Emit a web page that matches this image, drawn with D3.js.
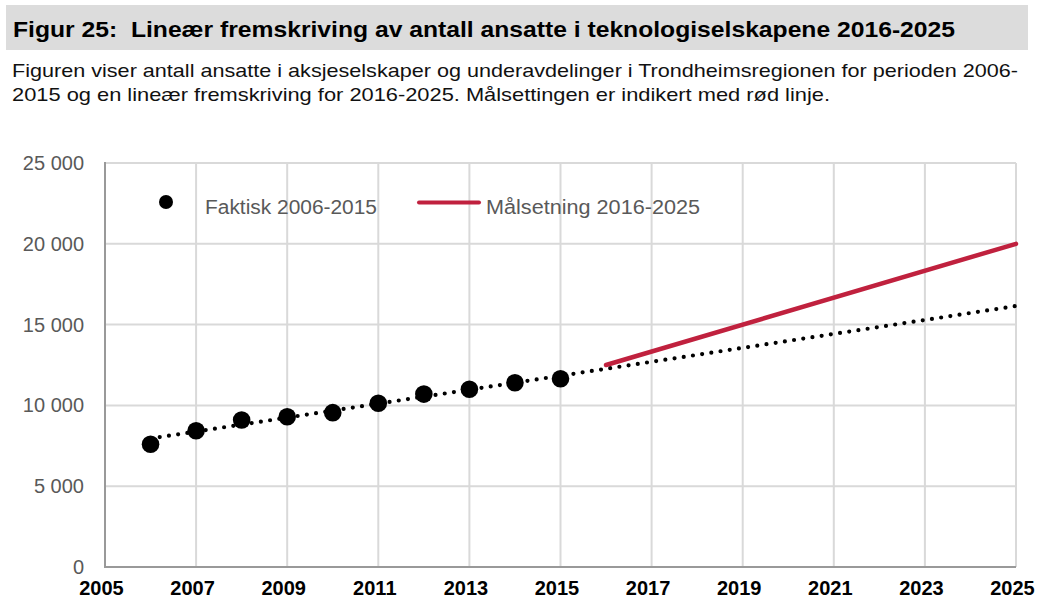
<!DOCTYPE html>
<html>
<head>
<meta charset="utf-8">
<script src="https://cdn.jsdelivr.net/npm/d3@7"></script>
<style>
  html, body { margin: 0; padding: 0; background: #ffffff; }
  svg { display: block; }
</style>
</head>
<body>
<svg id="chart" width="1040" height="611"></svg>
<script>
// ---- data ----
const titleText = "Figur 25:\u00A0 Lineær fremskriving av antall ansatte i teknologiselskapene 2016-2025";
const subtitleLines = [
  "Figuren viser antall ansatte i aksjeselskaper og underavdelinger i Trondheimsregionen for perioden 2006-",
  "2015 og en lineær fremskriving for 2016-2025. Målsettingen er indikert med rød linje."
];
const actualYears = [2006, 2007, 2008, 2009, 2010, 2011, 2012, 2013, 2014, 2015];
const actualValues = [7600, 8430, 9100, 9300, 9550, 10130, 10700, 11000, 11400, 11650];
const trendYears = [2006, 2025];
const trendValues = [7950, 16150];
const targetYears = [2016, 2025];
const targetValues = [12500, 20000];
const yTicks = [0, 5000, 10000, 15000, 20000, 25000];
const xTicks = [2005, 2007, 2009, 2011, 2013, 2015, 2017, 2019, 2021, 2023, 2025];
const legendLabels = ["Faktisk 2006-2015", "Målsetning 2016-2025"];

(function () {
// ---- layout ----
const svg = d3.select("#chart");
const pLeft = 105, pRight = 1016, pTop = 163, pBottom = 567;
const x = d3.scaleLinear().domain([2005, 2025]).range([pLeft, pRight]);
const y = d3.scaleLinear().domain([0, 25000]).range([pBottom, pTop]);
const red = "#c0213e";
const grid = "#d9d9d9";
const font = "'Liberation Sans', Arial, sans-serif";

// title band
svg.append("rect").attr("x", 6).attr("y", 5).attr("width", 1022).attr("height", 45).attr("fill", "#dcdcdc");
svg.append("text").attr("x", 13).attr("y", 37)
  .attr("font-family", font).attr("font-weight", "bold").attr("font-size", 22.5)
  .attr("fill", "#000").text(titleText)
  .attr("textLength", 942).attr("lengthAdjust", "spacingAndGlyphs");

subtitleLines.forEach((s, i) => {
  svg.append("text").attr("x", 12).attr("y", 77 + i * 24)
    .attr("font-family", font).attr("font-size", 18.5).attr("fill", "#111").text(s)
    .attr("textLength", i === 0 ? 1006 : 818).attr("lengthAdjust", "spacingAndGlyphs");
});

// grid
const g = svg.append("g");
g.selectAll("line.hg").data(yTicks.filter(d => d > 0)).join("line")
  .attr("x1", pLeft).attr("x2", pRight).attr("y1", d => y(d)).attr("y2", d => y(d))
  .attr("stroke", grid).attr("stroke-width", 2);
g.selectAll("line.vg").data(xTicks.filter(d => d > 2005)).join("line")
  .attr("x1", d => x(d)).attr("x2", d => x(d)).attr("y1", pTop).attr("y2", pBottom)
  .attr("stroke", grid).attr("stroke-width", 2);

// axes
const yAxis = d3.axisLeft(y).tickValues(yTicks).tickSize(0).tickPadding(21)
  .tickFormat(d => d3.format(",")(d).replace(/,/g, " "));
const ya = svg.append("g").attr("transform", `translate(${pLeft},0)`).call(yAxis);
ya.select(".domain").remove();
ya.selectAll("text").attr("font-family", font).attr("font-size", 20).attr("fill", "#595959");

const xAxis = d3.axisBottom(x).tickValues(xTicks).tickSize(0).tickPadding(14).tickFormat(d3.format("d"));
const xa = svg.append("g").attr("transform", `translate(-4,${pBottom})`).call(xAxis);
xa.select(".domain").remove();
xa.selectAll("text").attr("font-family", font).attr("font-size", 20).attr("font-weight", "bold").attr("fill", "#000");

svg.append("line").attr("x1", pLeft).attr("x2", pLeft).attr("y1", pTop - 1).attr("y2", pBottom + 1)
  .attr("stroke", "#999").attr("stroke-width", 2);
svg.append("line").attr("x1", pLeft - 1).attr("x2", pRight).attr("y1", pBottom).attr("y2", pBottom)
  .attr("stroke", "#999").attr("stroke-width", 2);

// trend dotted line
const line = d3.line().x(d => x(d[0])).y(d => y(d[1]));
svg.append("path").datum(d3.zip(trendYears, trendValues)).attr("d", line)
  .attr("fill", "none").attr("stroke", "#000").attr("stroke-width", 4.2)
  .attr("stroke-linecap", "round").attr("stroke-dasharray", "0 9.3");

// target red line
svg.append("path").datum(d3.zip(targetYears, targetValues)).attr("d", line)
  .attr("fill", "none").attr("stroke", red).attr("stroke-width", 4.5).attr("stroke-linecap", "round");

// actual points
svg.append("g").selectAll("circle").data(d3.zip(actualYears, actualValues)).join("circle")
  .attr("cx", d => x(d[0])).attr("cy", d => y(d[1])).attr("r", 8.8).attr("fill", "#000");

// legend
svg.append("circle").attr("cx", 166).attr("cy", 202).attr("r", 7).attr("fill", "#000");
svg.append("text").attr("x", 205).attr("y", 214).attr("font-family", font).attr("font-size", 20)
  .attr("fill", "#595959").text(legendLabels[0]).attr("textLength", 172).attr("lengthAdjust", "spacingAndGlyphs");
svg.append("line").attr("x1", 419).attr("x2", 479).attr("y1", 202.5).attr("y2", 202.5)
  .attr("stroke", red).attr("stroke-width", 4).attr("stroke-linecap", "round");
svg.append("text").attr("x", 486).attr("y", 214).attr("font-family", font).attr("font-size", 20)
  .attr("fill", "#595959").text(legendLabels[1]).attr("textLength", 214).attr("lengthAdjust", "spacingAndGlyphs");
})();
</script>
</body>
</html>
